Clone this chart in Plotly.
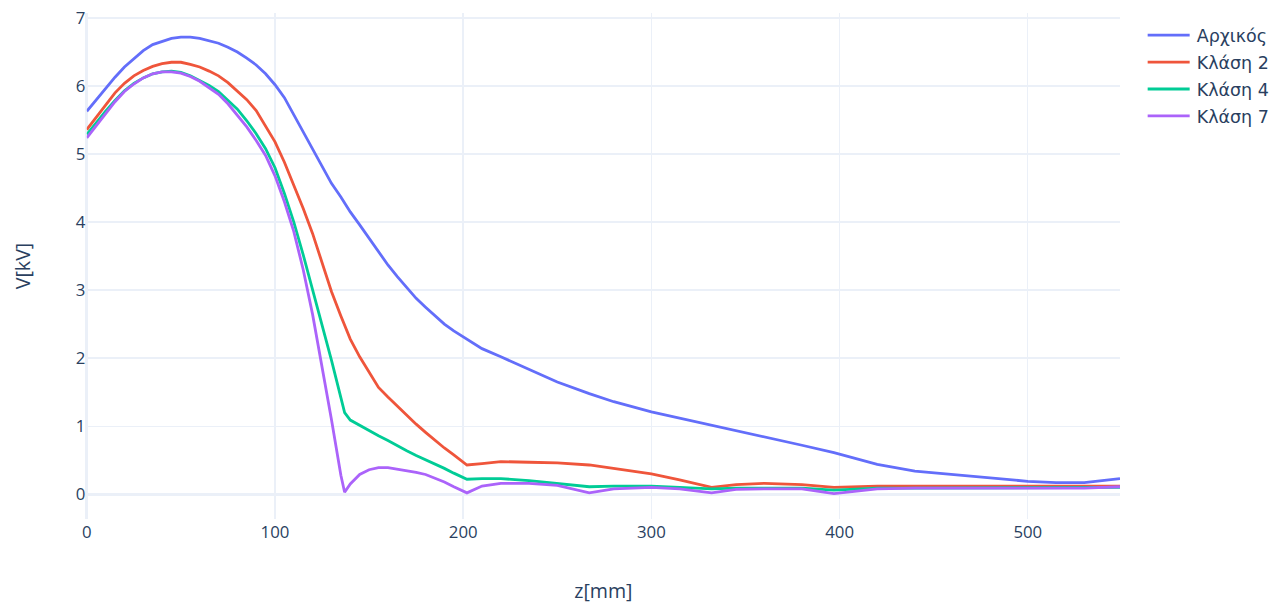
import plotly.graph_objects as go

z_mm = [0, 5, 10, 15, 20, 25, 30, 35, 40, 45, 50, 55, 60, 65, 70, 75, 80, 85, 90, 95,
        100, 105, 110, 115, 120, 125, 130, 135, 137, 140, 145, 150, 155, 160, 165, 170, 175,
        180, 185, 190, 195, 202, 210, 220, 235, 250, 267, 280, 300, 315, 332, 345, 360, 380,
        397, 420, 440, 460, 480, 500, 515, 530, 549]

v_initial = [5.63, 5.80, 5.97, 6.13, 6.28, 6.41, 6.52, 6.61, 6.66, 6.70, 6.72, 6.72, 6.70, 6.67,
             6.63, 6.57, 6.50, 6.41, 6.31, 6.18, 6.02, 5.83, 5.58, 5.32, 5.05, 4.80, 4.57, 4.37,
             4.28, 4.15, 3.96, 3.76, 3.56, 3.37, 3.20, 3.03, 2.88, 2.75, 2.62, 2.50, 2.40, 2.28,
             2.14, 2.02, 1.83, 1.65, 1.48, 1.36, 1.21, 1.12, 1.02, 0.94, 0.84, 0.72, 0.61, 0.44,
             0.34, 0.285, 0.23, 0.19, 0.17, 0.17, 0.23]

v_class2 = [5.36, 5.55, 5.72, 5.90, 6.04, 6.15, 6.23, 6.29, 6.33, 6.35, 6.35, 6.32, 6.28, 6.22,
            6.15, 6.05, 5.93, 5.80, 5.64, 5.42, 5.18, 4.88, 4.55, 4.20, 3.83, 3.41, 2.98, 2.62,
            2.48, 2.28, 2.02, 1.79, 1.57, 1.43, 1.29, 1.15, 1.03, 0.91, 0.79, 0.68, 0.58, 0.43,
            0.45, 0.48, 0.47, 0.46, 0.43, 0.38, 0.30, 0.21, 0.10, 0.14, 0.16, 0.14, 0.10, 0.12,
            0.12, 0.12, 0.12, 0.11, 0.11, 0.11, 0.12]

v_class4 = [5.29, 5.47, 5.63, 5.79, 5.93, 6.04, 6.12, 6.18, 6.21, 6.22, 6.20, 6.15, 6.08, 6.01,
            5.92, 5.80, 5.66, 5.49, 5.30, 5.08, 4.80, 4.42, 4.00, 3.52, 3.02, 2.52, 1.97, 1.42,
            1.20, 1.09, 1.01, 0.94, 0.86, 0.79, 0.71, 0.64, 0.57, 0.51, 0.44, 0.38, 0.31, 0.22,
            0.23, 0.23, 0.20, 0.16, 0.11, 0.12, 0.12, 0.10, 0.08, 0.09, 0.09, 0.09, 0.06, 0.09,
            0.09, 0.09, 0.09, 0.09, 0.09, 0.09, 0.10]

v_class7 = [5.24, 5.42, 5.60, 5.77, 5.92, 6.03, 6.12, 6.18, 6.21, 6.21, 6.19, 6.14, 6.07, 5.98,
            5.88, 5.74, 5.58, 5.40, 5.20, 4.98, 4.68, 4.30, 3.86, 3.30, 2.64, 1.90, 1.10, 0.28,
            0.03, 0.15, 0.29, 0.36, 0.39, 0.39, 0.37, 0.35, 0.32, 0.29, 0.24, 0.18, 0.11, 0.02,
            0.12, 0.16, 0.16, 0.13, 0.02, 0.08, 0.10, 0.08, 0.02, 0.07, 0.08, 0.08, 0.01, 0.08,
            0.09, 0.09, 0.09, 0.09, 0.09, 0.09, 0.11]

series_names = ["Αρχικός", "Κλάση 2", "Κλάση 4", "Κλάση 7"]
series_values = [v_initial, v_class2, v_class4, v_class7]
colors = ["#636efa", "#EF553B", "#00cc96", "#ab63fa"]

SCALE = 1.4

fig = go.Figure()
for name, vals, col in zip(series_names, series_values, colors):
    fig.add_trace(go.Scatter(x=z_mm, y=vals, mode="lines", name=name,
                             line=dict(color=col, width=2)))

fig.update_layout(
    template="plotly_white",
    width=914, height=432,
    margin=dict(l=62.1, r=113.6, t=9.2, b=60.6, autoexpand=False),
    font=dict(family="Open Sans", size=12, color="#2a3f5f"),
    legend=dict(font=dict(family="DejaVu Sans", size=12.5), y=0.996),
    xaxis=dict(title=dict(text="z[mm]", font=dict(size=14), standoff=30),
               range=[0, 549], dtick=100, automargin=False),
    yaxis=dict(title=dict(text="V[kV]", font=dict(size=14), standoff=28),
               range=[-0.37, 7.08], dtick=1, automargin=False),
)

fig.write_html(
    "out.html",
    config={"displayModeBar": False},
    post_script="document.body.style.margin='0px'; document.body.style.zoom='%s';" % SCALE,
)
